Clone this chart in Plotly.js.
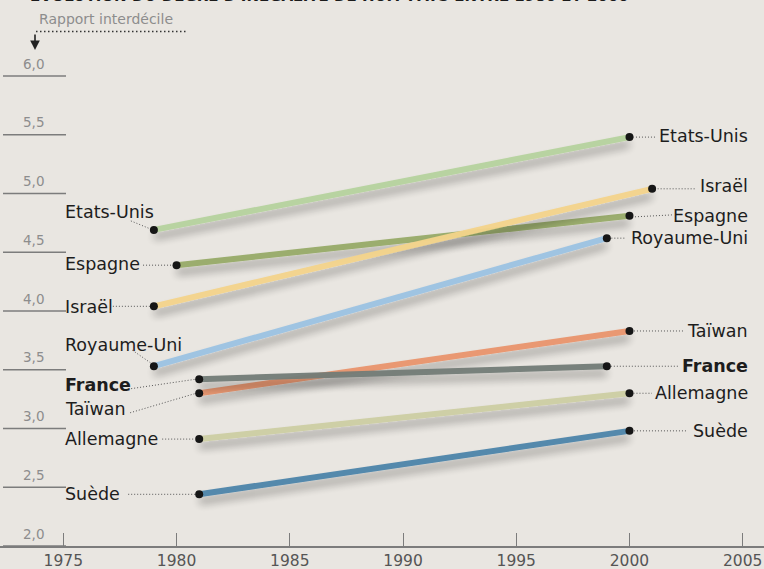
<!DOCTYPE html>
<html>
<head>
<meta charset="utf-8">
<script src="https://cdn.plot.ly/plotly-3.0.1.min.js"></script>
<style>
  html, body { margin: 0; padding: 0; background: #e9e6e1; }
  #chart { width: 764px; height: 569px; }
</style>
</head>
<body>
<div id="chart"></div>
<script>
// Interdecile ratio, first and last observation per country
const countries   = ['Etats-Unis', 'Espagne', 'Israël', 'Royaume-Uni', 'France', 'Taïwan', 'Allemagne', 'Suède'];
const startYears  = [1979, 1980, 1979, 1979, 1981, 1981, 1981, 1981];
const endYears    = [2000, 2000, 2001, 1999, 1999, 2000, 2000, 2000];
const startValues = [4.69, 4.39, 4.04, 3.53, 3.42, 3.30, 2.91, 2.44];
const endValues   = [5.48, 4.81, 5.04, 4.62, 3.53, 3.83, 3.30, 2.98];

const yTickValues = [2.0, 2.5, 3.0, 3.5, 4.0, 4.5, 5.0, 5.5, 6.0];
const yTickLabels = ['2,0', '2,5', '3,0', '3,5', '4,0', '4,5', '5,0', '5,5', '6,0'];
const xTickValues = [1975, 1980, 1985, 1990, 1995, 2000, 2005];
const xTickLabels = ['1975', '1980', '1985', '1990', '1995', '2000', '2005'];

const titleText = "ÉVOLUTION DU DEGRÉ D'INÉGALITÉ DE HUIT PAYS ENTRE 1980 ET 2000";
const axisLabel = 'Rapport interdécile';

// ---- styling -------------------------------------------------------------
const W = 764, H = 569, MB = 23;
const PLOT_H = H - MB;
const PX_PER_YEAR = 22.647;
const PX_PER_UNIT = 117.5;
const X0_PX = 63.3;               // pixel position of 1975
const FONT = 'DejaVu Sans, Open Sans, sans-serif';

const lineColors = ['#b6d39e', '#97ab68', '#f4d48b', '#9cc3e3', '#737c77', '#e9946d', '#cdcea3', '#4e85aa'];
const drawOrder = [7, 6, 5, 4, 3, 1, 2, 0];

// label placement: vertical shift (px, up) of each label relative to its dot
const leftShift  = [17.5, 1.5, -0.5, 21, -6, -16, 0, 0];
const rightShift = [1.5, 0, 3, 0, 0, 0, 0, 0];
// dotted leader lines, pixel offsets from the dot [x0, y0, x1, y1] (y up)
const leftLeader = [
  [-23, 9, -3.5, 1], [-33.5, 0, -4.5, 0], [-41, 0, -4, 0], [-21.5, 16, -3.5, 3.5],
  [-68, -9.5, -3, 0], [-69, -19.5, -3, 0], [-37, 0, -3.5, 0], [-71, 0, -3.5, 0]
];
const rightLeader = [
  [3.5, 0, 27, 0], [5.5, -1, 44, 1], [5.5, 0, 44, 0], [4.5, 0, 19, 0],
  [4, 0, 72.5, 0], [4.5, 0, 53.5, 0], [4, 0, 22.5, 0], [4.5, 0, 57.5, 0]
];

const xRange = [1975 - X0_PX / PX_PER_YEAR, 1975 + (W - X0_PX) / PX_PER_YEAR];
const yRange = [2, 2 + PLOT_H / PX_PER_UNIT];
const px = x => x / W;                 // pixel -> paper (x)
const py = y => 1 - y / PLOT_H;        // pixel -> paper (y)

// ---- traces -----------------------------------------------------------------
const traces = drawOrder.map(i => ({
  type: 'scatter', mode: 'lines', hoverinfo: 'skip', showlegend: false,
  x: [startYears[i], endYears[i]], y: [startValues[i], endValues[i]],
  line: { color: lineColors[i], width: 6 }, opacity: 0.95
}));
traces.push({
  type: 'scatter', mode: 'markers', hoverinfo: 'skip', showlegend: false,
  x: startYears.concat(endYears), y: startValues.concat(endValues),
  marker: { color: '#161616', size: 8 }
});

// ---- annotations ------------------------------------------------------------
const annotations = [];
const isBold = name => name === 'France';
countries.forEach((name, i) => {
  const txt = isBold(name) ? '<b>' + name + '</b>' : name;
  annotations.push({
    xref: 'paper', yref: 'y', x: px(63), y: startValues[i], yshift: leftShift[i],
    xanchor: 'left', yanchor: 'middle', text: txt, showarrow: false,
    font: { family: FONT, size: 17.5, color: '#1d1d1d' }
  });
  annotations.push({
    xref: 'paper', yref: 'y', x: px(749.5), y: endValues[i], yshift: rightShift[i],
    xanchor: 'right', yanchor: 'middle', text: txt, showarrow: false,
    font: { family: FONT, size: 17.5, color: '#1d1d1d' }
  });
});
annotations.push({
  xref: 'paper', yref: 'paper', x: px(28), y: 1, yshift: -7.5,
  xanchor: 'left', yanchor: 'bottom', text: '<b>' + titleText + '</b>', showarrow: false,
  font: { family: FONT, size: 15, color: '#1b1b1b' }
});
annotations.push({
  xref: 'paper', yref: 'paper', x: px(37), y: py(19),
  xanchor: 'left', yanchor: 'middle', text: axisLabel, showarrow: false,
  font: { family: FONT, size: 14, color: '#8d8d8d' }
});
annotations.push({
  xref: 'paper', yref: 'paper', x: px(35), y: py(50), ax: 0, ay: -17,
  text: '', showarrow: true, arrowhead: 2, arrowsize: 1.2, arrowwidth: 1.6,
  arrowcolor: '#222', standoff: 0
});

// ---- shapes -----------------------------------------------------------------
const shapes = [];
yTickValues.forEach(v => {
  shapes.push({
    type: 'line', xref: 'paper', yref: 'y', x0: px(3), x1: px(66), y0: v, y1: v,
    line: { color: '#7c7c7c', width: 1.5 }
  });
});
shapes.push({
  type: 'line', xref: 'paper', yref: 'paper', x0: px(36), x1: px(188), y0: py(31.5), y1: py(31.5),
  line: { color: '#333', width: 1.5, dash: '1.5px,2.5px' }
});
countries.forEach((name, i) => {
  const L = leftLeader[i], R = rightLeader[i];
  shapes.push({
    type: 'line', xref: 'x', yref: 'y', xsizemode: 'pixel', ysizemode: 'pixel',
    xanchor: startYears[i], yanchor: startValues[i],
    x0: L[0], y0: L[1], x1: L[2], y1: L[3],
    line: { color: '#555', width: 1, dash: '1px,2px' }
  });
  shapes.push({
    type: 'line', xref: 'x', yref: 'y', xsizemode: 'pixel', ysizemode: 'pixel',
    xanchor: endYears[i], yanchor: endValues[i],
    x0: R[0], y0: R[1], x1: R[2], y1: R[3],
    line: { color: '#555', width: 1, dash: '1px,2px' }
  });
});

const layout = {
  width: W, height: H,
  margin: { l: 0, r: 0, t: 0, b: MB, pad: 0 },
  paper_bgcolor: '#e9e6e1', plot_bgcolor: '#e9e6e1',
  separators: ', ',
  showlegend: false,
  xaxis: {
    range: xRange, fixedrange: true, zeroline: false, showgrid: false,
    showline: true, linecolor: '#7c7c7c', linewidth: 1.5,
    tickmode: 'array', tickvals: xTickValues, ticktext: xTickLabels,
    ticks: 'inside', ticklen: 13, tickwidth: 1, tickcolor: '#7c7c7c',
    ticklabelstandoff: 0,
    tickfont: { family: FONT, size: 15.5, color: '#555' }
  },
  yaxis: {
    range: yRange, fixedrange: true, zeroline: false, showgrid: false, showline: false,
    tickmode: 'array', tickvals: yTickValues, ticktext: yTickLabels,
    ticks: '', ticklabelposition: 'inside', ticklabelstandoff: 20, ticklabelshift: -12,
    tickfont: { family: FONT, size: 13.5, color: '#8d8d8d' }
  },
  annotations: annotations,
  shapes: shapes
};

Plotly.newPlot('chart', traces, layout, { staticPlot: true, displayModeBar: false }).then(gd => {
  // soft drop shadow under the coloured lines
  const ns = 'http://www.w3.org/2000/svg';
  const svg = gd.querySelector('.main-svg');
  let defs = svg.querySelector('defs');
  if (!defs) { defs = document.createElementNS(ns, 'defs'); svg.insertBefore(defs, svg.firstChild); }
  const f = document.createElementNS(ns, 'filter');
  f.setAttribute('id', 'lineShadow');
  f.setAttribute('filterUnits', 'userSpaceOnUse');
  f.setAttribute('x', '-100'); f.setAttribute('y', '-100');
  f.setAttribute('width', '1000'); f.setAttribute('height', '800');
  f.innerHTML =
    '<feGaussianBlur in="SourceAlpha" stdDeviation="4" result="b"/>' +
    '<feOffset in="b" dx="0" dy="7" result="o"/>' +
    '<feComponentTransfer in="o" result="s"><feFuncA type="linear" slope="0.34"/></feComponentTransfer>' +
    '<feMerge><feMergeNode in="s"/><feMergeNode in="SourceGraphic"/></feMerge>';
  defs.appendChild(f);
  gd.querySelectorAll('.scatterlayer .js-line').forEach(p => p.setAttribute('filter', 'url(#lineShadow)'));
});
</script>
</body>
</html>
